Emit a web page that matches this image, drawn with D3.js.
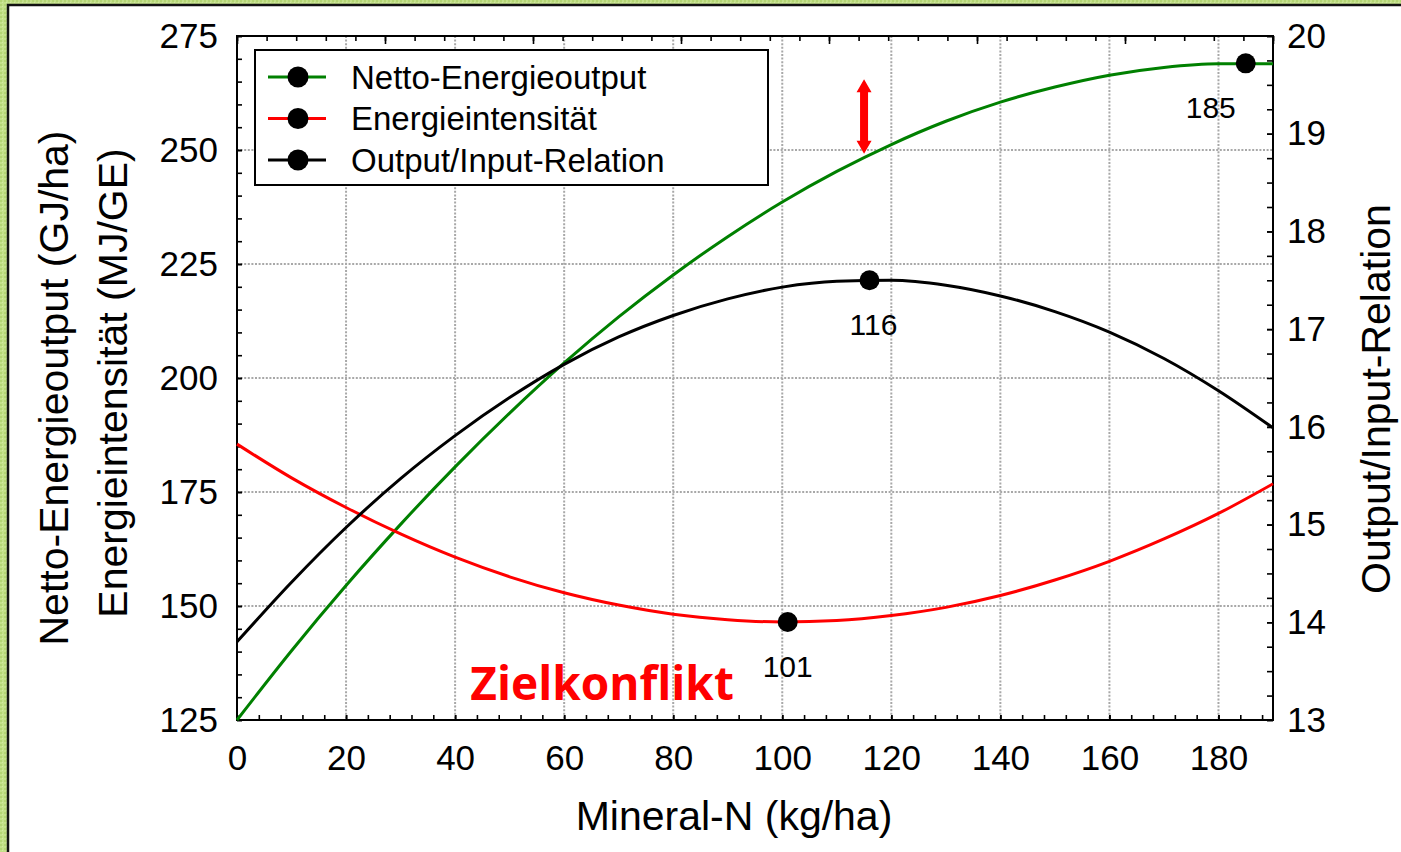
<!DOCTYPE html>
<html>
<head>
<meta charset="utf-8">
<script src="https://cdn.jsdelivr.net/npm/d3@7"></script>
<style>
    html, body { margin: 0; padding: 0; background: #c0de85; }
    svg { display: block; font-family: "Liberation Sans", Arial, Helvetica, sans-serif; }
    .grid line { stroke: #a8a8a8; stroke-width: 2; stroke-dasharray: 2,1.6; }
    .axis path { display: none; }
    .axis line { stroke: #000; stroke-width: 1.6; }
    .axis text { font-size: 35px; fill: #000; }
</style>
</head>
<body>
<svg id="chart" width="1401" height="852"></svg>
<script>
'use strict';

var nLevels = [0, 10, 20, 30, 40, 50, 60, 70, 80, 90, 100, 110, 120, 130, 140, 150, 160, 170, 180, 190];

// Netto-Energieoutput (GJ/ha), left axis.
var nettoOutput = [125.0, 140.2, 154.5, 167.9, 180.5, 192.3, 203.3, 213.4, 222.6, 231.0,
    238.6, 245.3, 251.2, 256.3, 260.5, 263.8, 266.4, 268.1, 268.9, 268.9];

// Energieintensität (MJ/GE), left axis.
var energieIntensitaet = [185.5, 178.1, 171.6, 165.8, 160.7, 156.4, 152.9, 150.2, 148.2, 147.0,
    146.5, 146.8, 147.9, 149.7, 152.3, 155.7, 159.8, 164.7, 170.3, 176.8];

// Output/Input-Relation, right axis.
var outputInputRelation = [13.80, 14.41, 14.97, 15.47, 15.91, 16.30, 16.64, 16.92, 17.14, 17.31,
    17.43, 17.49, 17.50, 17.45, 17.34, 17.18, 16.97, 16.70, 16.37, 15.99];

// Optimum of each curve: N level and value.
var optimumN = [185, 101, 116];
var optimumValue = [269.0, 146.5, 17.5];

var seriesNames = ['Netto-Energieoutput', 'Energieintensität', 'Output/Input-Relation'];
var seriesColours = ['#008000', '#ff0000', '#000000'];

var xTicks = [0, 20, 40, 60, 80, 100, 120, 140, 160, 180];
var yLeftTicks = [125, 150, 175, 200, 225, 250, 275];
var yRightTicks = [13, 14, 15, 16, 17, 18, 19, 20];

var svg = d3.select('#chart');
var width = 1401, height = 852;
var plot = {left: 237, right: 1273, top: 36, bottom: 720};

// Green textured page background and the white sheet.
var defs = svg.append('defs');
var pattern = defs.append('pattern')
    .attr('id', 'bgTexture')
    .attr('width', 4).attr('height', 4)
    .attr('patternUnits', 'userSpaceOnUse');
pattern.append('rect').attr('width', 4).attr('height', 4).attr('fill', '#c3e08a');
pattern.append('rect').attr('width', 2).attr('height', 2).attr('fill', '#b3d474');
pattern.append('rect').attr('x', 2).attr('y', 2).attr('width', 1).attr('height', 1).attr('fill', '#d2eaa2');

svg.append('rect').attr('width', width).attr('height', height).attr('fill', 'url(#bgTexture)');
svg.append('rect')
    .attr('x', 8).attr('y', 5)
    .attr('width', width).attr('height', height)
    .attr('fill', '#fff')
    .attr('stroke', '#111')
    .attr('stroke-width', 2.5);

var x = d3.scaleLinear().domain([0, 190]).range([plot.left, plot.right]);
var xTop = d3.scaleLinear().domain([0, 35]).range([plot.left, plot.right]);
var yLeft = d3.scaleLinear().domain([125, 275]).range([plot.bottom, plot.top]);
var yRight = d3.scaleLinear().domain([13, 20]).range([plot.bottom, plot.top]);

// Dotted grid at the major ticks.
var grid = svg.append('g').classed('grid', true);
grid.selectAll('line.v')
    .data(xTicks.slice(1))
    .enter().append('line')
    .attr('x1', function(d) {return x(d);})
    .attr('x2', function(d) {return x(d);})
    .attr('y1', plot.top)
    .attr('y2', plot.bottom);
grid.selectAll('line.h')
    .data(yLeftTicks.slice(1, -1))
    .enter().append('line')
    .attr('x1', plot.left)
    .attr('x2', plot.right)
    .attr('y1', function(d) {return yLeft(d);})
    .attr('y2', function(d) {return yLeft(d);});

// Axes, ticks all point into the plot.
function addAxis(axis, tx, ty) {
    return svg.append('g')
        .classed('axis', true)
        .attr('transform', 'translate(' + tx + ',' + ty + ')')
        .call(axis);
}

addAxis(d3.axisBottom(x).tickValues(d3.range(0, 191, 4)).tickSize(-5).tickFormat(''), 0, plot.bottom);
addAxis(d3.axisBottom(x).tickValues(xTicks).tickSize(-5).tickPadding(25), 0, plot.bottom);

addAxis(d3.axisTop(xTop).tickValues(d3.range(0, 36, 1)).tickSize(-5).tickFormat(''), 0, plot.top);
addAxis(d3.axisTop(xTop).tickValues(d3.range(0, 36, 5)).tickSize(-8).tickFormat(''), 0, plot.top);

addAxis(d3.axisLeft(yLeft).tickValues(d3.range(125, 276, 5)).tickSize(-5).tickFormat(''), plot.left, 0);
addAxis(d3.axisLeft(yLeft).tickValues(yLeftTicks).tickSize(-5).tickPadding(19), plot.left, 0);

addAxis(d3.axisRight(yRight).tickValues(d3.range(13, 20.01, 0.25)).tickSize(-6).tickFormat(''), plot.right, 0);
addAxis(d3.axisRight(yRight).tickValues(yRightTicks).tickSize(-6).tickPadding(14).tickFormat(d3.format('d')), plot.right, 0);

// Plot frame.
svg.append('rect')
    .attr('x', plot.left).attr('y', plot.top)
    .attr('width', plot.right - plot.left)
    .attr('height', plot.bottom - plot.top)
    .attr('fill', 'none')
    .attr('stroke', '#000')
    .attr('stroke-width', 2);

// Axis titles.
svg.append('text')
    .attr('x', (plot.left + plot.right) / 2 - 21)
    .attr('y', 830)
    .attr('text-anchor', 'middle')
    .style('font-size', '41px')
    .text('Mineral-N (kg/ha)');

svg.append('text')
    .attr('transform', 'translate(68,388) rotate(-90)')
    .attr('text-anchor', 'middle')
    .style('font-size', '41px')
    .text('Netto-Energieoutput (GJ/ha)');

svg.append('text')
    .attr('transform', 'translate(127,383) rotate(-90)')
    .attr('text-anchor', 'middle')
    .style('font-size', '41px')
    .text('Energieintensität (MJ/GE)');

svg.append('text')
    .attr('transform', 'translate(1390,399) rotate(-90)')
    .attr('text-anchor', 'middle')
    .style('font-size', '41px')
    .text('Output/Input-Relation');

// Curves.
var seriesValues = [nettoOutput, energieIntensitaet, outputInputRelation];
var seriesScales = [yLeft, yLeft, yRight];

seriesValues.forEach(function(values, i) {
    var yScale = seriesScales[i];
    var line = d3.line()
        .x(function(d, j) {return x(nLevels[j]);})
        .y(function(d) {return yScale(d);})
        .curve(d3.curveMonotoneX);
    svg.append('path')
        .datum(values)
        .attr('d', line)
        .attr('fill', 'none')
        .attr('stroke', seriesColours[i])
        .attr('stroke-width', 3);
});

// Red double arrow above the green curve.
var arrowN = 115;
var arrowX = x(arrowN);
var arrowBottom = yLeft(249.2);
var arrowTop = yLeft(265.5);
var head = 13, headHalf = 7.5, shaftHalf = 4;
svg.append('path')
    .attr('d', [
        'M', arrowX, arrowTop,
        'L', arrowX + headHalf, arrowTop + head,
        'L', arrowX + shaftHalf, arrowTop + head,
        'L', arrowX + shaftHalf, arrowBottom - head,
        'L', arrowX + headHalf, arrowBottom - head,
        'L', arrowX, arrowBottom,
        'L', arrowX - headHalf, arrowBottom - head,
        'L', arrowX - shaftHalf, arrowBottom - head,
        'L', arrowX - shaftHalf, arrowTop + head,
        'L', arrowX - headHalf, arrowTop + head, 'Z'
    ].join(' '))
    .attr('fill', '#ff0000');

// Optimum markers and their N labels.
var labelDx = [-35, 0, 4];
optimumN.forEach(function(n, i) {
    var cx = x(n);
    var cy = seriesScales[i](optimumValue[i]);
    svg.append('circle')
        .attr('cx', cx).attr('cy', cy).attr('r', 10)
        .attr('fill', '#000');
    svg.append('text')
        .attr('x', cx + labelDx[i])
        .attr('y', cy + 55)
        .attr('text-anchor', 'middle')
        .style('font-size', '30px')
        .text(n);
});

svg.append('text')
    .attr('x', x(42.8))
    .attr('y', yLeft(129.4))
    .style('font-family', '"Open Sans", "DejaVu Sans", sans-serif')
    .style('font-weight', 700)
    .style('font-size', '46px')
    .attr('fill', '#ff0000')
    .text('Zielkonflikt');

// Legend.
var legend = svg.append('g')
    .attr('transform', 'translate(255,50)');
legend.append('rect')
    .attr('width', 513).attr('height', 135)
    .attr('fill', '#fff')
    .attr('stroke', '#000')
    .attr('stroke-width', 2);

var legendItems = legend.selectAll('g.legend__item')
    .data(seriesNames)
    .enter().append('g')
    .classed('legend__item', true)
    .attr('transform', function(d, i) {return 'translate(0,' + (27 + i * 41.5) + ')';});

legendItems.append('line')
    .attr('x1', 13).attr('x2', 71)
    .attr('stroke', function(d, i) {return seriesColours[i];})
    .attr('stroke-width', 3);
legendItems.append('circle')
    .attr('cx', 43).attr('r', 10.5)
    .attr('fill', '#000');
legendItems.append('text')
    .attr('x', 96)
    .attr('dy', '0.35em')
    .style('font-size', '33px')
    .text(function(d) {return d;});
</script>
</body>
</html>
